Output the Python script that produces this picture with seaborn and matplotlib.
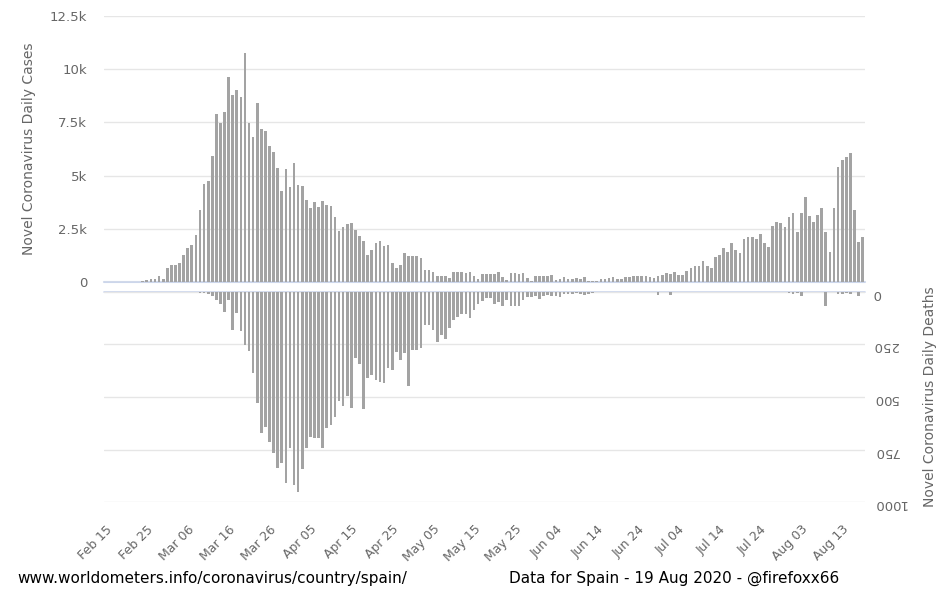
import pandas as pd
import numpy as np
import matplotlib.pyplot as plt
import seaborn as sns


# daily values, Feb 15 - Aug 18 2020 (Spain)
cases = [
    0, 0, 0, 0, 0, 0, 0, 0, 0,
    50, 80, 120, 120, 300, 150, 670, 780, 780, 890,
    1250, 1600, 1750, 2200, 3400, 4600, 4760, 5940, 7880, 7470,
    8000, 9650, 8800, 9000, 8700, 10770, 7470, 6800, 8400, 7200,
    7100, 6400, 6100, 5370, 4270, 5300, 4450, 5600, 4550, 4520,
    3870, 3460, 3760, 3520, 3820, 3630, 3550, 3050, 2410, 2600,
    2720, 2770, 2460, 2180, 1940, 1250, 1520, 1830, 1940, 1670,
    1720, 890, 660, 810, 1360, 1240, 1240, 1240, 1130, 550,
    550, 470, 300, 300, 270, 190, 470, 470, 470, 420,
    470, 300, 140, 390, 390, 380, 360, 470, 230, 110,
    400, 400, 360, 400, 200, 50, 270, 280, 280, 280,
    340, 110, 120, 220, 160, 140, 200, 140, 230, 30,
    30, 30, 160, 160, 190, 220, 160, 160, 220, 230,
    280, 280, 280, 280, 220, 170, 300, 340, 400, 360,
    470, 340, 340, 530, 660, 770, 770, 1000, 770, 660,
    1170, 1280, 1580, 1390, 1820, 1520, 1350, 2030, 2100, 2100,
    2030, 2270, 1820, 1630, 2630, 2820, 2750, 2570, 3040, 3220,
    2350, 3220, 3990, 3100, 2820, 3160, 3460, 2350, 1410, 3460,
    5400, 5730, 5850, 6070, 3400, 1900, 2100,
]

deaths = [
    0, 0, 0, 0, 0, 0, 0, 0, 0, 0,
    0, 0, 0, 0, 0, 0, 0, 0, 0, 0,
    0, 0, 2, 5, 3, 11, 21, 40, 56, 96,
    40, 183, 100, 188, 252, 280, 384, 530, 671, 642,
    714, 766, 836, 814, 908, 742, 921, 954, 844, 742,
    690, 695, 695, 742, 647, 631, 594, 519, 543, 495,
    551, 315, 344, 559, 408, 395, 419, 427, 435, 363,
    371, 284, 323, 292, 448, 276, 276, 268, 156, 156,
    180, 236, 204, 225, 172, 132, 119, 104, 104, 124,
    88, 56, 45, 29, 29, 56, 49, 65, 40, 68,
    68, 68, 37, 24, 24, 21, 32, 21, 13, 21,
    21, 24, 8, 8, 8, 5, 11, 16, 11, 5,
    2, 1, 0, 0, 1, 0, 0, 0, 0, 0,
    0, 0, 0, 0, 0, 13, 0, 0, 13, 0,
    0, 0, 0, 0, 0, 0, 0, 0, 0, 0,
    0, 0, 0, 0, 0, 0, 0, 0, 0, 0,
    0, 0, 0, 0, 0, 0, 0, 6, 8, 5,
    20, 0, 0, 0, 0, 0, 65, 0, 0, 8,
    10, 6, 8, 0, 20, 0,
]

tick_labels = ["Feb 15", "Feb 25", "Mar 06", "Mar 16", "Mar 26", "Apr 05",
               "Apr 15", "Apr 25", "May 05", "May 15", "May 25", "Jun 04",
               "Jun 14", "Jun 24", "Jul 04", "Jul 14", "Jul 24", "Aug 03",
               "Aug 13"]

days = pd.date_range("2020-02-15", periods=len(cases)).strftime("%Y-%m-%d")
df = pd.DataFrame({"day": days, "cases": cases, "deaths": deaths})

sns.set_style("white")
plt.rcParams["font.family"] = ["DejaVu Sans"]

bar_color = "#a3a3a3"
grid_color = "#e6e6e6"
label_color = "#666666"

fig = plt.figure(figsize=(9.44, 6.06), dpi=100)
ax1 = fig.add_axes([0.110, 0.5347, 0.806, 0.4389])
ax2 = fig.add_axes([0.110, 0.1716, 0.806, 0.3466])

# cases, upward
sns.barplot(data=df, x="day", y="cases", color=bar_color, saturation=1,
            width=0.66, linewidth=0, edgecolor="none", ax=ax1)
ax1.set_xlim(-0.5, len(cases) - 0.5)
ax1.set_ylim(0, 12500)
ax1.set_yticks([0, 2500, 5000, 7500, 10000, 12500],
               ["0", "2.5k", "5k", "7.5k", "10k", "12.5k"])
ax1.set_xticks([])
ax1.set_xlabel("")
ax1.grid(axis="y", color=grid_color, lw=1)
ax1.set_axisbelow(True)
ax1.axhline(0, color="#ccd6eb", lw=1.5, clip_on=False, zorder=0)
ax1.tick_params(axis="y", length=0, labelsize=9.5, labelcolor=label_color, pad=12)
ax1.set_ylabel("Novel Coronavirus Daily Cases", fontsize=10, color=label_color,
               labelpad=10)
sns.despine(ax=ax1, left=True, bottom=True)

# deaths, hanging down
sns.barplot(data=df, x="day", y="deaths", color=bar_color, saturation=1,
            width=0.66, linewidth=0, edgecolor="none", ax=ax2)
ax2.set_xlim(-0.5, len(cases) - 0.5)
ax2.set_ylim(1000, 0)
ax2.yaxis.tick_right()
ax2.yaxis.set_label_position("right")
ax2.set_yticks([0, 250, 500, 750, 1000])
ax2.tick_params(axis="y", length=0, labelsize=9.5, labelcolor=label_color,
                labelrotation=180, pad=6)
ax2.set_ylabel("Novel Coronavirus Daily Deaths", fontsize=10, color=label_color,
               labelpad=12)
ax2.set_xticks(np.arange(0, len(cases), 10), tick_labels, rotation=45,
               ha="right", rotation_mode="anchor")
ax2.tick_params(axis="x", length=0, labelsize=9, labelcolor=label_color, pad=15)
ax2.set_xlabel("")
ax2.grid(axis="y", color=grid_color, lw=1)
ax2.set_axisbelow(True)
ax2.axhline(0, color="#ccd6eb", lw=1.2, clip_on=False, zorder=0)
sns.despine(ax=ax2, left=True, bottom=True, right=True, top=True)

fig.text(0.018, 0.046, "www.worldometers.info/coronavirus/country/spain/",
         fontsize=11, color="black", va="center")
fig.text(0.539, 0.046, "Data for Spain - 19 Aug 2020 - @firefoxx66",
         fontsize=11, color="black", va="center")

fig.savefig("out.png", dpi=100)
